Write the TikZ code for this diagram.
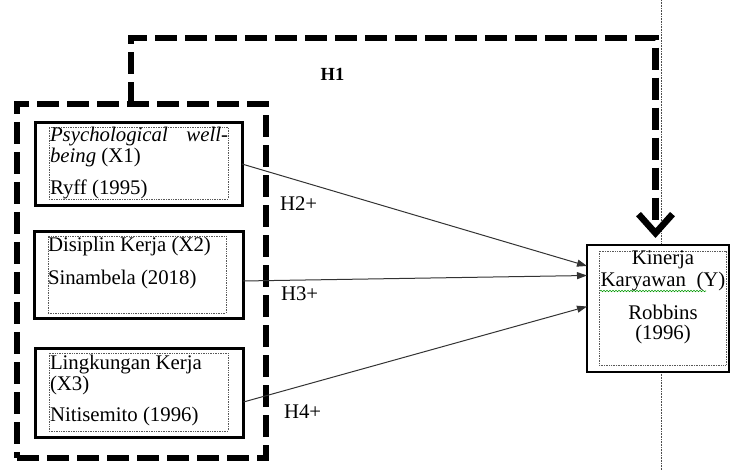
\documentclass[tikz,border=0pt]{standalone}
\usepackage{fontspec}
\setmainfont{Liberation Serif}
\usetikzlibrary{arrows.meta,calc,decorations.pathmorphing}
\begin{document}
\begin{tikzpicture}[x=1bp,y=-1bp,
  every node/.style={inner sep=0pt, outer sep=0pt},
  grpbox/.style={draw, line width=6bp, dash pattern=on 22bp off 8bp,
    line join=miter, minimum width=249bp, minimum height=354bp},
  varbox/.style={draw, line width=3bp, fill=white},
  inbox/.style={draw=black!65, densely dotted, line width=0.7bp},
  ybox/.style={draw, line width=1.2bp, fill=white,
    minimum width=142bp, minimum height=127bp},
  txt/.style={anchor=base west, font=\fontsize{20.8bp}{22bp}\selectfont},
  itxt/.style={anchor=base west, font=\fontsize{20.8bp}{22bp}\selectfont\itshape},
  ctxt/.style={anchor=base, font=\fontsize{20.8bp}{22bp}\selectfont},
  hyp/.style={draw=black!80, line width=1bp,
    -{Triangle[length=10bp,width=7bp]}},
  bigdash/.style={draw, line width=6.5bp, dash pattern=on 22bp off 8bp,
    line join=miter, -{Straight Barb[length=19bp,width=34bp]}},
]
\useasboundingbox (0,0) rectangle (731,470);

% thin dotted guide line behind the dependent variable
\coordinate (gtop) at (661,0);
\coordinate (gbot) at (661,470);
\draw[black!70, densely dotted, line width=0.6bp] (gtop) -- (gbot);

% group of independent variables
\node[grpbox] (grp) at (141.5,281) {};

% X1
\node[varbox, minimum width=206bp, minimum height=83bp] (x1) at (139,164) {};
\node[inbox, minimum width=179bp, minimum height=72bp] (x1i) at (138.5,163) {};
\node[itxt] (t1a) at (50,141.7) {Psychological};
\node[itxt, anchor=base east] (t1b) at (228,141.7) {well-};
\node[txt] (t1c) at (50,162.7) {\textit{being} (X1)};
\node[txt] (t1d) at (50,195) {Ryff (1995)};

% X2
\node[varbox, minimum width=208bp, minimum height=87bp] (x2) at (139,275) {};
\node[inbox, minimum width=178bp, minimum height=77bp] (x2i) at (137,274.5) {};
\node[txt] (t2a) at (48,251.7) {Disiplin\ Kerja (X2)};
\node[txt] (t2b) at (48,285) {Sinambela (2018)};

% X3
\node[varbox, minimum width=207.5bp, minimum height=89bp] (x3) at (139.75,393) {};
\node[inbox, minimum width=179bp, minimum height=78bp] (x3i) at (138.5,392) {};
\node[txt] (t3a) at (50,369) {Lingkungan Kerja};
\node[txt] (t3b) at (50,390.7) {(X3)};
\node[txt] (t3c) at (50,421.7) {Nitisemito (1996)};

% Y
\node[ybox] (y) at (658,308.5) {};
\node[inbox, minimum width=127bp, minimum height=114bp] (yi) at (662.5,308) {};
\node[ctxt] (ya) at (663,265) {Kinerja};
\node[ctxt] (yb) at (663,287) {Karyawan\ \ (Y)};
\node[ctxt] (yc) at (663,320) {Robbins};
\node[ctxt] (yd) at (663,340) {(1996)};
\draw[green!60!black, line width=0.6bp, decorate,
  decoration={snake, amplitude=0.7bp, segment length=3bp}]
  (600,291) -- (706,291);

% hypotheses H2-H4
\draw[hyp] (x1.east) -- ([yshift=42.5bp]y.west);
\draw[hyp] ([yshift=-6bp]x2.east) -- ([yshift=33bp]y.west);
\draw[hyp] ([yshift=-9bp]x3.east) -- ([yshift=2bp]y.west);
\node[txt] (h2) at (280,211) {H2+};
\node[txt] (h3) at (281,300.7) {H3+};
\node[txt] (h4) at (284,418) {H4+};

% hypothesis H1: joint effect
\coordinate (h1l) at (131,38);
\coordinate (h1r) at (655.5,38);
\draw[bigdash] (h1l |- grp.north) -- (h1l) -- (h1r) -- ($(h1r |- y.north)+(0,-7)$);
\node[anchor=base, font=\fontsize{18.5bp}{20bp}\selectfont\bfseries] (h1) at (332.5,81) {H1};
\end{tikzpicture}
\end{document}
